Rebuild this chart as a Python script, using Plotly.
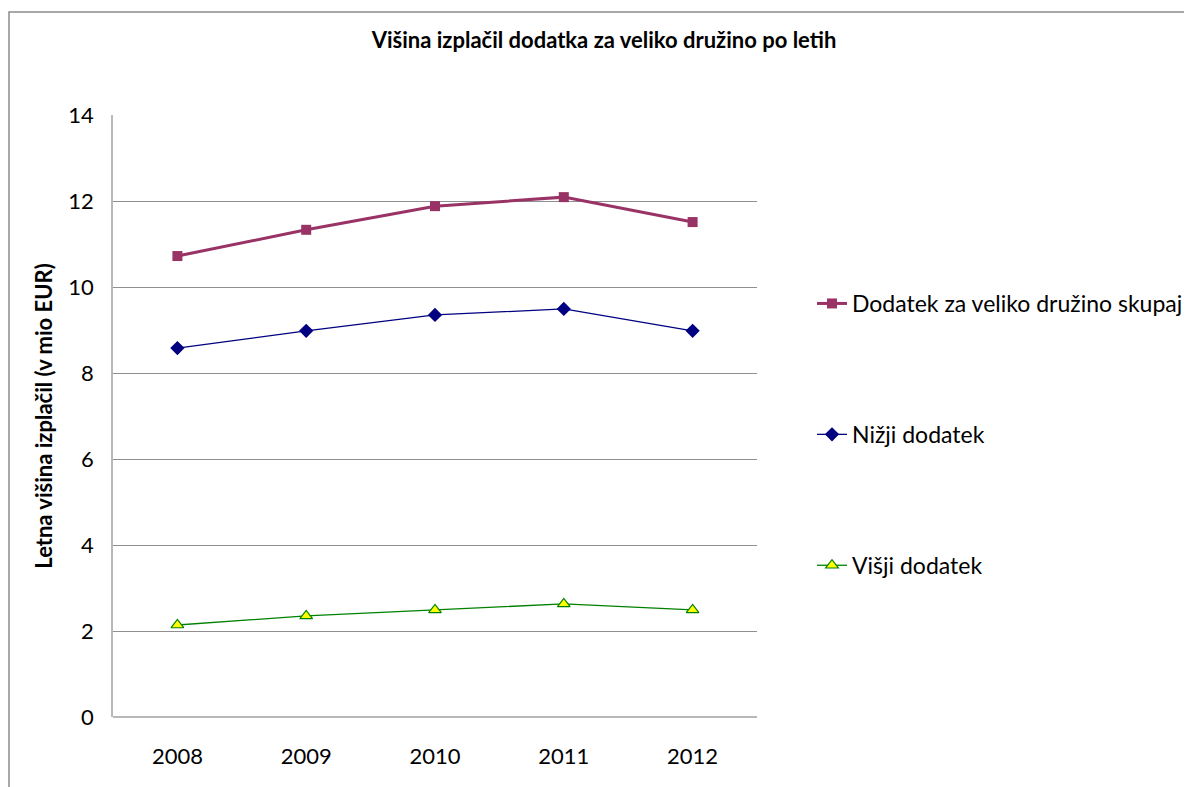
import plotly.graph_objects as go

years = ["2008", "2009", "2010", "2011", "2012"]
skupaj = [10.72, 11.33, 11.88, 12.09, 11.51]
nizji = [8.58, 8.98, 9.35, 9.49, 8.98]
visji = [2.14, 2.35, 2.49, 2.63, 2.49]
y_ticks = [0, 2, 4, 6, 8, 10, 12, 14]

FONT = "Lato, 'Open Sans', sans-serif"

fig = go.Figure()
fig.add_trace(go.Scatter(
    x=years, y=skupaj, name="Dodatek za veliko družino skupaj",
    mode="lines+markers", legendgroup="a",
    line=dict(color="#993366", width=3),
    marker=dict(symbol="square", size=10, color="#993366"),
))
fig.add_trace(go.Scatter(
    x=years, y=nizji, name="Nižji dodatek",
    mode="lines+markers", legendgroup="b",
    line=dict(color="#000080", width=1.3),
    marker=dict(symbol="diamond", size=11, color="#000080"),
))
fig.add_trace(go.Scatter(
    x=years, y=visji, name="Višji dodatek",
    mode="lines+markers", legendgroup="c",
    line=dict(color="#008000", width=1.3),
    marker=dict(symbol="triangle-up", size=11, color="#FFFF00",
                line=dict(color="#008000", width=1.2)),
))

# page offset (browser body margin) compensation: page px = figure px + 8
OFF = 8
W, H = 1192, 787
L, R, T, B = 113 - OFF, 757 - OFF, 115 - OFF, 717 - OFF
pw, ph = R - L, B - T

def px(x):
    return (x - OFF - L) / pw

def py(y):
    return (B - (y - OFF)) / ph

fig.add_shape(type="rect", xref="paper", yref="paper",
              x0=px(9), x1=px(1230), y0=py(12), y1=py(840),
              line=dict(color="#8c8c8c", width=1.5), fillcolor="rgba(0,0,0,0)",
              layer="below")

fig.update_layout(
    width=W, height=H,
    margin=dict(l=L, r=W - R, t=T, b=H - B),
    paper_bgcolor="white", plot_bgcolor="white",
    font=dict(family=FONT, size=22, color="#000000"),
    title=dict(text="<b>Višina izplačil dodatka za veliko družino po letih</b>",
               x=px(604), xref="paper", xanchor="center",
               y=1 - (40 - OFF) / H, yanchor="middle",
               font=dict(family=FONT, size=22, color="#000000")),
    showlegend=True,
    legend=dict(x=px(812), y=py(282), xanchor="left", yanchor="top",
                xref="paper", yref="paper",
                tracegroupgap=98, font=dict(family=FONT, size=23),
                bgcolor="rgba(0,0,0,0)"),
    xaxis=dict(type="category", range=[-0.5, 4.5],
               showgrid=False, showline=False, zeroline=False,
               ticks="", ticklabelstandoff=24,
               tickfont=dict(family=FONT, size=22)),
    yaxis=dict(range=[0, 14], tickvals=y_ticks, ticktext=[str(v) for v in y_ticks],
               showgrid=True, gridcolor="#8f8f8f", gridwidth=1,
               showline=True, linecolor="#b8b8b8", linewidth=1.5,
               zeroline=True, zerolinecolor="#b8b8b8", zerolinewidth=1.5,
               ticks="", ticklabelstandoff=13,
               tickfont=dict(family=FONT, size=22),
               title=dict(text="<b>Letna višina izplačil (v mio EUR)</b>",
                          font=dict(family=FONT, size=22), standoff=10)),
)

fig.write_html("out.html")
